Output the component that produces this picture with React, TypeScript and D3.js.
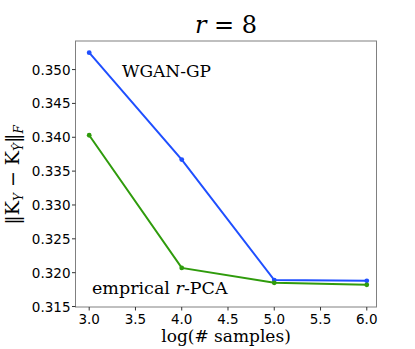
import React from "react";
import * as d3 from "d3";

const xs = [3.0, 4.0, 5.0, 6.0];
const wgan = [0.3525, 0.3367, 0.3189, 0.3188];
const rpca = [0.3403, 0.3207, 0.3185, 0.3182];
const xTicks = [3.0, 3.5, 4.0, 4.5, 5.0, 5.5, 6.0];
const yTicks = [0.315, 0.32, 0.325, 0.33, 0.335, 0.34, 0.345, 0.35];

const W = 415, H = 349;
const L = 75.5, R = 376.5, T = 41, B = 307;

export default function App() {
  const x = d3.scaleLinear().domain([2.852, 6.105]).range([L, R]);
  const y = d3.scaleLinear().domain([0.31493, 0.35422]).range([B, T]);
  const line = d3.line<number>().x((_, i) => x(xs[i])).y((v) => y(v));
  const serif = "'DejaVu Serif', serif";
  const sans = "'DejaVu Sans', sans-serif";
  const series = [
    { vals: wgan, color: "#1f4fff" },
    { vals: rpca, color: "#2f9b0c" },
  ];
  return (
    <svg width={W} height={H} style={{ position: "absolute", left: 0, top: 0 }}>
      <rect width={W} height={H} fill="#fff" />
      <text x={(L + R) / 2} y={33} textAnchor="middle" fontFamily={serif} fontSize={24}>
        <tspan fontStyle="italic">r</tspan> = 8
      </text>
      {series.map((s, k) => (
        <g key={k}>
          <path d={line(s.vals) || ""} fill="none" stroke={s.color} strokeWidth={2} />
          {s.vals.map((v, i) => (
            <circle key={i} cx={x(xs[i])} cy={y(v)} r={2.4} fill={s.color} />
          ))}
        </g>
      ))}
      <rect x={L} y={T} width={R - L} height={B - T} fill="none" stroke="#808080" strokeWidth={1} />
      {xTicks.map((t) => (
        <g key={t}>
          <line x1={x(t)} x2={x(t)} y1={B} y2={B + 3.5} stroke="#333" />
          <text x={x(t)} y={B + 17} textAnchor="middle" fontFamily={sans} fontSize={13.5}>
            {t.toFixed(1)}
          </text>
        </g>
      ))}
      {yTicks.map((t) => (
        <g key={t}>
          <line x1={L - 3.5} x2={L} y1={y(t)} y2={y(t)} stroke="#333" />
          <text x={L - 5} y={y(t) + 5} textAnchor="end" fontFamily={sans} fontSize={13.5}>
            {t.toFixed(3)}
          </text>
        </g>
      ))}
      <text x={(L + R) / 2} y={342} textAnchor="middle" fontFamily={serif} fontSize={17}>
        log(# samples)
      </text>
      <text transform={`translate(19,175) rotate(-90)`} textAnchor="middle" fontFamily={serif} fontSize={19}>
        ‖K<tspan fontSize={12} dy={4} fontStyle="italic">Y</tspan>
        <tspan dy={-4}> − K</tspan>
        <tspan fontSize={12} dy={4} fontStyle="italic">Ŷ</tspan>
        <tspan dy={-4}>‖</tspan>
        <tspan fontSize={12} dy={4} fontStyle="italic">F</tspan>
      </text>
      <text x={122} y={77} fontFamily={serif} fontSize={17}>
        WGAN-GP
      </text>
      <text x={92} y={294} fontFamily={serif} fontSize={17.5}>
        emprical <tspan fontStyle="italic">r</tspan>-PCA
      </text>
    </svg>
  );
}
